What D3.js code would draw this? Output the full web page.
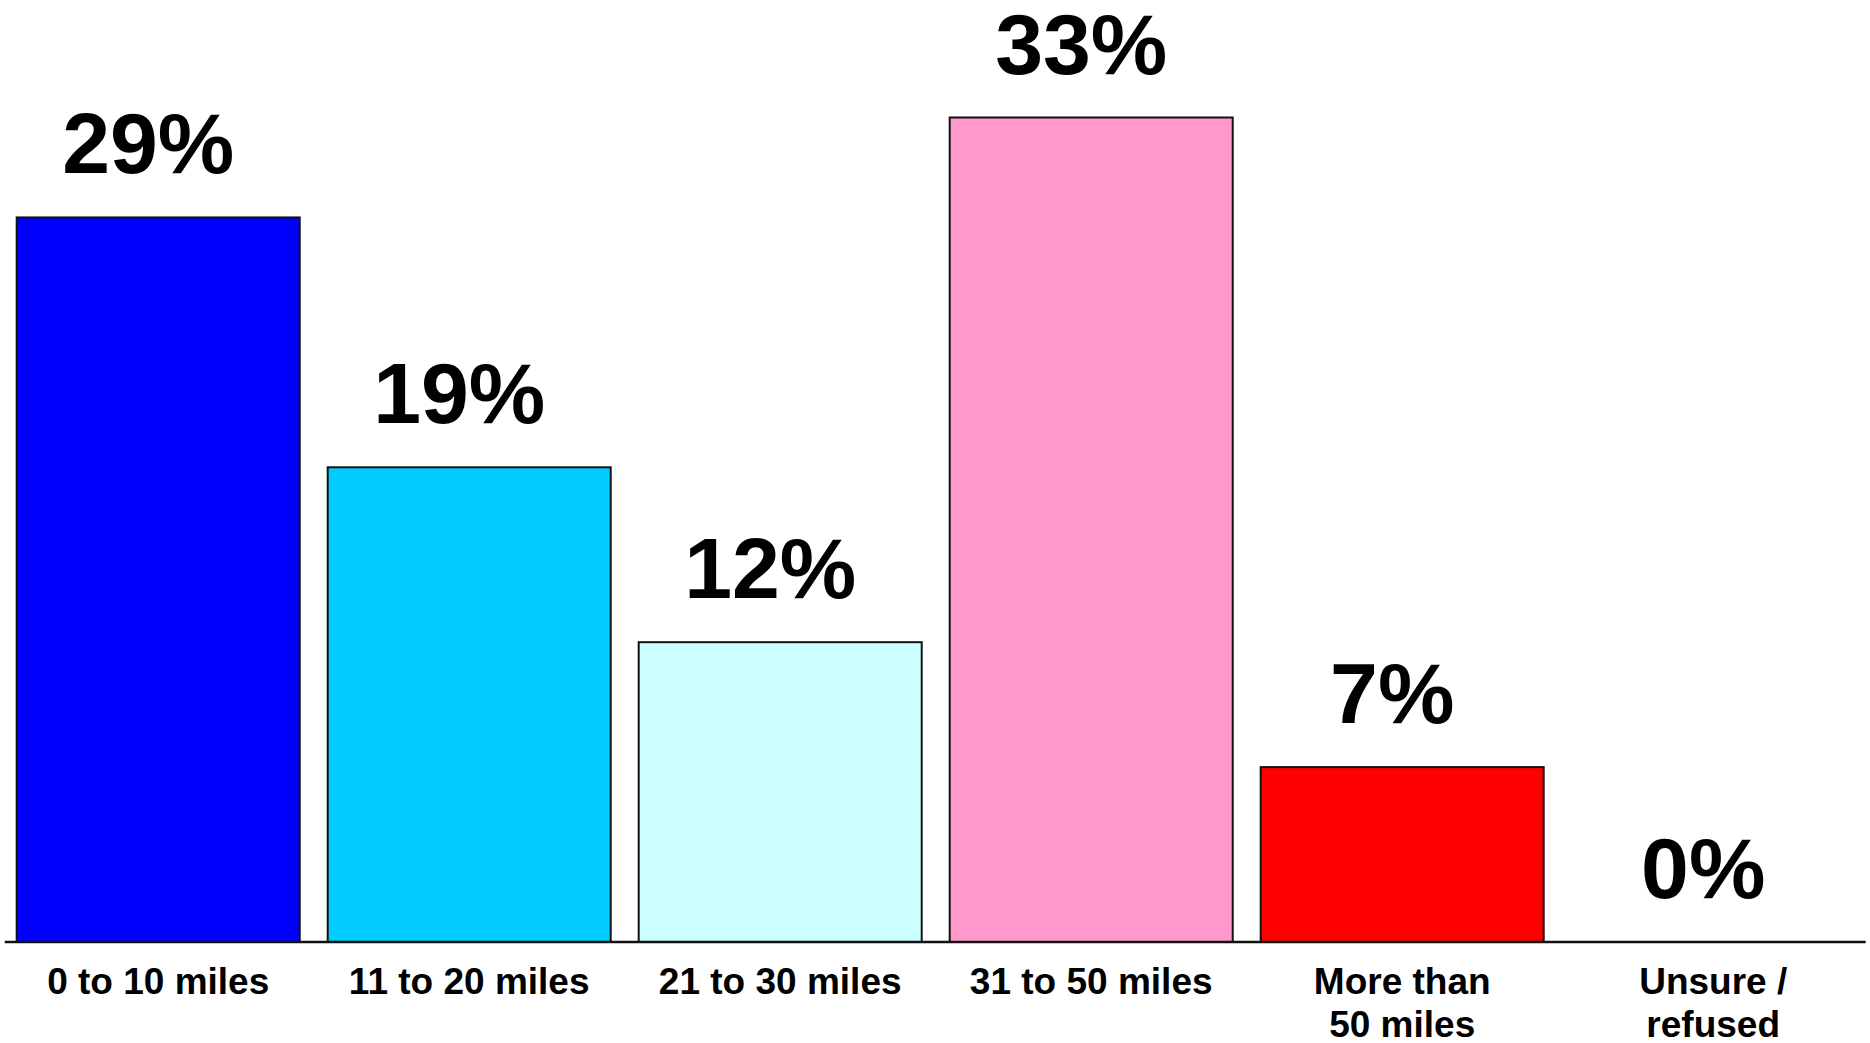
<!DOCTYPE html>
<html>
<head>
<meta charset="utf-8">
<script src="https://cdn.jsdelivr.net/npm/d3@7"></script>
<style>
  html, body { margin: 0; padding: 0; background: #fff; }
  svg { display: block; }
  text { font-family: "Liberation Sans", Arial, Helvetica, sans-serif; font-weight: bold; fill: #000; }
</style>
</head>
<body>
<svg id="chart" width="1870" height="1043"></svg>
<script>
const categories = ["0 to 10 miles", "11 to 20 miles", "21 to 30 miles", "31 to 50 miles", "More than\n50 miles", "Unsure /\nrefused"];
const values = [29, 19, 12, 33, 7, 0];
const valueLabels = ["29%", "19%", "12%", "33%", "7%", "0%"];
const colors = ["#0000FF", "#00CCFF", "#CCFFFF", "#FF99CC", "#FF0000", "#FFFFFF"];

const svg = d3.select("#chart");
const W = 1870, H = 1043;
const baseY = 942;

const x = d3.scaleBand()
  .domain(categories)
  .range([2.7, 1868.7])
  .paddingInner(0.09)
  .paddingOuter(0.045);

const y = d3.scaleLinear()
  .domain([0, 33])
  .range([baseY, 117.5]);

// bars
svg.append("g")
  .selectAll("rect")
  .data(categories)
  .join("rect")
  .filter((d, i) => values[i] > 0)
  .attr("x", d => x(d))
  .attr("y", d => y(values[categories.indexOf(d)]))
  .attr("width", x.bandwidth())
  .attr("height", d => baseY - y(values[categories.indexOf(d)]))
  .attr("fill", d => colors[categories.indexOf(d)])
  .attr("stroke", "#111")
  .attr("stroke-width", 2);

// baseline axis
svg.append("line")
  .attr("x1", x.range()[0] + 2)
  .attr("x2", x.range()[1] - 3)
  .attr("y1", baseY)
  .attr("y2", baseY)
  .attr("stroke", "#111")
  .attr("stroke-width", 2.5);

// value labels
svg.append("g")
  .selectAll("text")
  .data(categories)
  .join("text")
  .attr("x", d => x(d) + x.bandwidth() / 2 - 10)
  .attr("y", (d, i) => y(values[i]) - 44)
  .attr("text-anchor", "middle")
  .attr("font-size", 86)
  .text((d, i) => valueLabels[i]);

// category labels
const cat = svg.append("g")
  .selectAll("text")
  .data(categories)
  .join("text")
  .attr("text-anchor", "middle")
  .attr("font-size", 37)
  .attr("transform", d => `translate(${x(d) + x.bandwidth() / 2},994)`);

cat.selectAll("tspan")
  .data(d => d.split("\n"))
  .join("tspan")
  .attr("x", 0)
  .attr("y", (d, i) => i * 43)
  .text(d => d);
</script>
</body>
</html>
